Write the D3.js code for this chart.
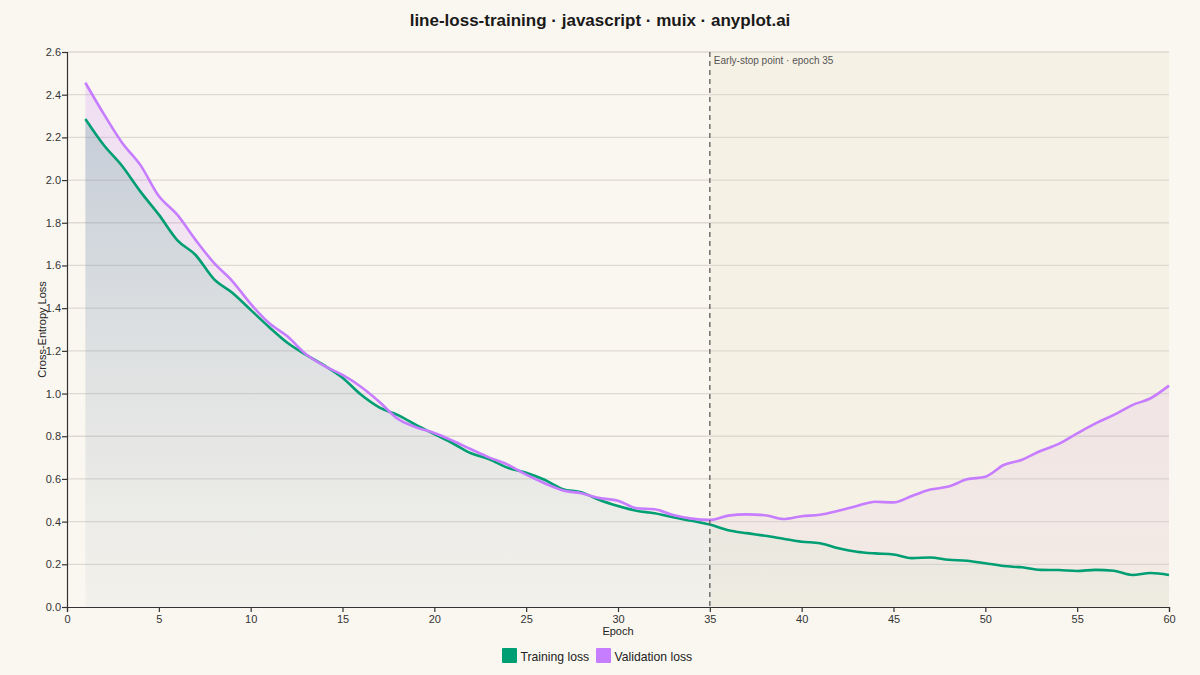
<!DOCTYPE html>
<html>
<head>
<meta charset="utf-8">
<script src="https://cdn.jsdelivr.net/npm/d3@7"></script>
<style>
  body { margin: 0; background: #faf7f0; }
  svg { display: block; font-family: "Liberation Sans", Arial, sans-serif; }
</style>
</head>
<body>
<script>
// values
var epochs = d3.range(1, 61);
var trainLoss = [2.286, 2.164, 2.066, 1.946, 1.838, 1.719, 1.649, 1.536, 1.472, 1.392,
                 1.312, 1.238, 1.182, 1.132, 1.074, 0.995, 0.935, 0.9, 0.853, 0.81,
                 0.767, 0.72, 0.692, 0.652, 0.629, 0.596, 0.552, 0.538, 0.501, 0.473,
                 0.451, 0.439, 0.42, 0.404, 0.386, 0.36, 0.346, 0.334, 0.32, 0.306,
                 0.299, 0.275, 0.259, 0.251, 0.246, 0.229, 0.232, 0.221, 0.217, 0.205,
                 0.192, 0.186, 0.174, 0.173, 0.169, 0.174, 0.17, 0.15, 0.159, 0.15];
var valLoss = [2.456, 2.31, 2.175, 2.07, 1.925, 1.838, 1.72, 1.612, 1.527, 1.42,
               1.33, 1.268, 1.185, 1.13, 1.087, 1.032, 0.962, 0.882, 0.842, 0.815,
               0.779, 0.739, 0.7, 0.667, 0.62, 0.58, 0.546, 0.533, 0.51, 0.498,
               0.463, 0.458, 0.431, 0.414, 0.408, 0.428, 0.434, 0.43, 0.412, 0.425,
               0.432, 0.451, 0.473, 0.493, 0.49, 0.52, 0.55, 0.564, 0.598, 0.61,
               0.665, 0.69, 0.731, 0.764, 0.813, 0.86, 0.9, 0.946, 0.978, 1.037];
var xTicks = [0, 5, 10, 15, 20, 25, 30, 35, 40, 45, 50, 55, 60];
var yTicks = [0, 0.2, 0.4, 0.6, 0.8, 1.0, 1.2, 1.4, 1.6, 1.8, 2.0, 2.2, 2.4, 2.6];
var earlyStop = 35;
var seriesNames = ["Training loss", "Validation loss"];
var seriesColors = ["#009e73", "#c77dff"];

var width = 1200,
  height = 675;
var margin = {top: 52, right: 31, bottom: 68, left: 67};

var scaleX = d3.scaleLinear()
                .domain([0, 60])
                .range([margin.left, width - margin.right]);

var scaleY = d3.scaleLinear()
                .domain([0, 2.6])
                .range([height - margin.bottom, margin.top]);

window.onload = function() {
  var svg = d3.select("body").append("svg")
                .attr("width", width)
                .attr("height", height);

  svg.append("rect")
      .attr("width", width)
      .attr("height", height)
      .attr("fill", "#faf7f0");

  var defs = svg.append("defs");
  var gTrain = defs.append("linearGradient")
                  .attr("id", "trainGrad")
                  .attr("x1", 0).attr("y1", 0).attr("x2", 0).attr("y2", 1);
  gTrain.append("stop").attr("offset", "0%").attr("stop-color", "#6f88b0").attr("stop-opacity", 0.38);
  gTrain.append("stop").attr("offset", "100%").attr("stop-color", "#9aaab8").attr("stop-opacity", 0.08);

  var gVal = defs.append("linearGradient")
                  .attr("id", "valGrad")
                  .attr("x1", 0).attr("y1", 0).attr("x2", 0).attr("y2", 1);
  gVal.append("stop").attr("offset", "0%").attr("stop-color", "#c77dff").attr("stop-opacity", 0.2);
  gVal.append("stop").attr("offset", "100%").attr("stop-color", "#c98bd8").attr("stop-opacity", 0.07);

  // early-stop band
  svg.append("rect")
      .attr("x", scaleX(earlyStop))
      .attr("y", margin.top)
      .attr("width", scaleX(60) - scaleX(earlyStop))
      .attr("height", scaleY(0) - margin.top)
      .attr("fill", "#e6dcb8")
      .attr("opacity", 0.2);

  // grid
  svg.selectAll("line.grid")
      .data(yTicks.slice(1))
      .enter()
      .append("line")
      .attr("class", "grid")
      .attr("x1", scaleX(0))
      .attr("x2", scaleX(60))
      .attr("y1", function(d) { return scaleY(d); })
      .attr("y2", function(d) { return scaleY(d); })
      .style("stroke", "#dedad1")
      .style("stroke-width", 1.3);

  var curve = d3.curveMonotoneX;

  var gapArea = d3.area()
                  .x(function(d, i) { return scaleX(epochs[i]); })
                  .y0(function(d, i) { return scaleY(trainLoss[i]); })
                  .y1(function(d) { return scaleY(d); })
                  .curve(curve);

  var trainArea = d3.area()
                  .x(function(d, i) { return scaleX(epochs[i]); })
                  .y0(scaleY(0))
                  .y1(function(d) { return scaleY(d); })
                  .curve(curve);

  svg.append("path")
      .datum(valLoss)
      .attr("d", gapArea)
      .attr("fill", "url(#valGrad)");

  svg.append("path")
      .datum(trainLoss)
      .attr("d", trainArea)
      .attr("fill", "url(#trainGrad)");

  var line = d3.line()
                .x(function(d, i) { return scaleX(epochs[i]); })
                .y(function(d) { return scaleY(d); })
                .curve(curve);

  svg.selectAll("path.series")
      .data([trainLoss, valLoss])
      .enter()
      .append("path")
      .attr("class", "series")
      .attr("d", line)
      .attr("fill", "none")
      .style("stroke", function(d, i) { return seriesColors[i]; })
      .style("stroke-width", 2.6)
      .style("stroke-linejoin", "round");

  // early-stop marker
  svg.append("line")
      .attr("x1", scaleX(earlyStop))
      .attr("x2", scaleX(earlyStop))
      .attr("y1", margin.top)
      .attr("y2", scaleY(0))
      .style("stroke", "#666")
      .style("stroke-width", 1.4)
      .style("stroke-dasharray", "5,4");

  svg.append("text")
      .attr("x", scaleX(earlyStop) + 4)
      .attr("y", margin.top + 12)
      .attr("font-size", 10)
      .attr("fill", "#555")
      .text("Early-stop point · epoch " + earlyStop);

  // axes
  var xAxis = svg.append("g")
                .attr("transform", "translate(0," + scaleY(0) + ")")
                .call(d3.axisBottom(scaleX).tickValues(xTicks).tickSizeOuter(0).tickSize(5));
  var yAxis = svg.append("g")
                .attr("transform", "translate(" + scaleX(0) + ",0)")
                .call(d3.axisLeft(scaleY).tickValues(yTicks).tickFormat(d3.format(".1f")).tickSizeOuter(0).tickSize(5));

  [xAxis, yAxis].forEach(function(ax) {
    ax.selectAll("path, line").style("stroke", "#333").style("stroke-width", 1.2);
    ax.selectAll("text")
      .style("font-family", "\"Liberation Sans\", Arial, sans-serif")
      .style("font-size", "11px")
      .style("fill", "#333");
  });
  yAxis.selectAll("text").attr("x", -6);

  svg.append("text")
      .attr("x", (scaleX(0) + scaleX(60)) / 2)
      .attr("y", 635)
      .attr("text-anchor", "middle")
      .attr("font-size", 11)
      .attr("fill", "#222")
      .text("Epoch");

  svg.append("text")
      .attr("transform", "translate(46," + (margin.top + scaleY(0)) / 2 + ") rotate(-90)")
      .attr("text-anchor", "middle")
      .attr("font-size", 11)
      .attr("fill", "#222")
      .text("Cross-Entropy Loss");

  // title
  svg.append("text")
      .attr("x", width / 2)
      .attr("y", 26)
      .attr("text-anchor", "middle")
      .attr("font-size", 17)
      .attr("font-weight", "bold")
      .attr("fill", "#1a1a1a")
      .text("line-loss-training · javascript · muix · anyplot.ai");

  // legend
  var legendX = [502, 596];
  var legend = svg.selectAll("g.legend")
                  .data(seriesNames)
                  .enter()
                  .append("g")
                  .attr("class", "legend")
                  .attr("transform", function(d, i) { return "translate(" + legendX[i] + ",648)"; });
  legend.append("rect")
      .attr("width", 15)
      .attr("height", 15)
      .attr("rx", 1)
      .attr("fill", function(d, i) { return seriesColors[i]; });
  legend.append("text")
      .attr("x", 18.5)
      .attr("y", 12.5)
      .attr("font-size", 12.2)
      .attr("fill", "#222")
      .text(function(d) { return d; });
}
</script>
</body>
</html>
